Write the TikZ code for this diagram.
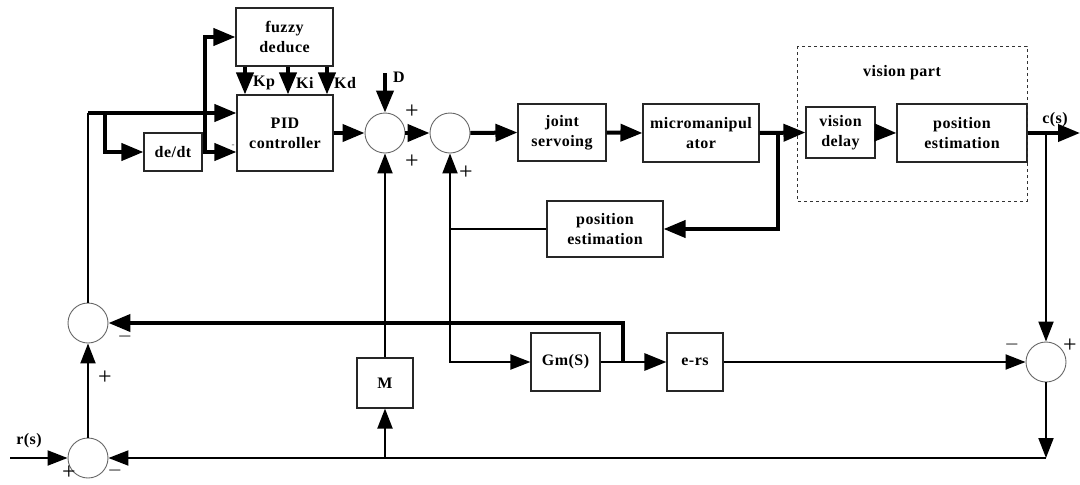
\documentclass[tikz,border=0pt]{standalone}
\usepackage{fontspec}
\setmainfont{Liberation Serif}
\newfontfamily\boxfont[LetterSpace=3]{Liberation Serif}
\usetikzlibrary{arrows.meta}
\begin{document}
\begin{tikzpicture}[x=1pt,y=-1pt,
  blk/.style={draw=black!85,line width=1.1pt,fill=white,inner sep=0pt,align=center,
    font=\boxfont\fontsize{16}{20}\selectfont\bfseries},
  sumc/.style={circle,draw=black!60,line width=0.9pt,minimum size=40pt,inner sep=0pt},
  heavy/.style={line width=4pt,-{Triangle[length=22pt,width=17pt]}},
  heavyline/.style={line width=4pt},
  light/.style={line width=2pt,-{Triangle[length=20pt,width=15pt]}},
  lightline/.style={line width=2pt},
  sgn/.style={font=\fontsize{24}{24}\selectfont,inner sep=0pt},
  lbl/.style={font=\boxfont\fontsize{16}{16}\selectfont\bfseries,inner sep=0pt}]
\useasboundingbox (0,0) rectangle (1080,485);

% blocks
\node[blk,minimum width=97pt,minimum height=58pt] (fuzzy) at (284.5,37) {fuzzy\\deduce};
\node[blk,minimum width=96pt,minimum height=76pt] (pid) at (285,133) {PID\\controller};
\node[blk,minimum width=58pt,minimum height=38pt] (dedt) at (173,152) {de/dt};
\node[blk,minimum width=88pt,minimum height=57pt] (joint) at (562,132.5) {joint\\servoing};
\node[blk,minimum width=116pt,minimum height=58pt] (micro) at (701,133) {micromanipul\\ator};
\node[blk,minimum width=69pt,minimum height=51pt] (vdelay) at (840.5,132.5) {vision\\delay};
\node[blk,minimum width=130pt,minimum height=58pt] (posest) at (962,133) {position\\estimation};
\node[blk,minimum width=116pt,minimum height=56pt] (pos2) at (605,229) {position\\estimation};
\node[blk,minimum width=69pt,minimum height=58pt] (gm) at (565.5,362) {Gm(S)};
\node[blk,minimum width=56pt,minimum height=58pt] (ers) at (695,362) {e-rs};
\node[blk,minimum width=56pt,minimum height=50pt] (M) at (385,383) {M};

% vision part frame
\draw[dashed,line width=0.9pt,black!80] (797,46) rectangle (1027,201);
\node[lbl] (vp) at (902,73) {vision part};

% summing junctions
\node[sumc] (s1) at (385,133) {};
\node[sumc] (s2) at (450,133) {};
\node[sumc] (s3) at (1046,362) {};
\node[sumc] (sL) at (88,323) {};
\node[sumc] (sB) at (88,458) {};

% branch points
\coordinate (j1) at (88,113);
\coordinate (j2) at (105,113);
\coordinate (j3) at (205,152);
\coordinate (jc) at (1046,133);
\coordinate (jm) at (778,133);
\coordinate (jp) at (450,229);
\coordinate (jg) at (623,362);
\coordinate (jb) at (1046,458);
\coordinate (jM) at (385,458);
\coordinate (din) at (385,73);
\coordinate (rin) at (10,458);
\coordinate (cout) at (1080,133);

% fuzzy PID part
\draw[lightline] (sL.north) -- (j1);
\draw[heavy] (j1) -- (pid.west |- j1);
\draw[heavy] (j2) |- (dedt.west);
\draw[heavy] (dedt.east) -- (pid.west |- dedt.east);
\draw[heavy] (j3) |- (fuzzy.west);
\foreach \kx in {245,288,327}{
  \draw[heavy] (fuzzy.south -| \kx,0) -- (pid.north -| \kx,0);
}
\node[lbl,anchor=west] (kp) at (253,83) {Kp};
\node[lbl,anchor=west] (ki) at (296,83) {Ki};
\node[lbl,anchor=west] (kd) at (334,83) {Kd};
\node[font=\fontsize{9}{9}\selectfont,inner sep=0pt,black!70] (mk) at (233,146) {-};

% forward path
\draw[heavy] (pid.east |- s1) -- (s1.west);
\draw[heavy] (din) -- (s1.north);
\node[lbl] (dl) at (399,77) {D};
\draw[heavy] (s1.east) -- (s2.west);
\draw[heavy] (s2.east) -- (joint.west);
\draw[heavy] (joint.east) -- (micro.west);
\draw[heavy] (micro.east) -- (vdelay.west);
\draw[heavy] (vdelay.east) -- (posest.west);
\draw[heavy] (posest.east) -- (cout);
\node[lbl] (cs) at (1055,120) {c(s)};

% inner position loop
\draw[heavy] (jm) |- (pos2.east);
\draw[lightline] (pos2.west) -- (jp);
\draw[light] (jp) -- (s2.south);
\draw[light] (jp) |- (gm.west);

% model path
\draw[heavy,line width=2.8pt] (gm.east) -- (ers.west);
\draw[heavy] (jg) |- (sL.east);
\draw[light] (ers.east) -- (s3.west);
\draw[light] (jc) -- (s3.north);
\draw[light] (s3.south) -- (jb);
\draw[light] (jb) -- (sB.east);
\draw[light] (jM) -- (M.south);
\draw[light] (M.north) -- (s1.south);
\draw[light] (rin) -- (sB.west);
\node[lbl] (rs) at (29,441) {r(s)};
\draw[light] (sB.north) -- (sL.south);

% signs
\node[sgn] (p1) at (412,112) {+};
\node[sgn] (p2) at (412,162) {+};
\node[sgn] (p3) at (466,173) {+};
\node[sgn,black!70] (m1) at (125,340) {−};
\node[sgn] (p4) at (105,378) {+};
\node[sgn] (p5) at (69,473) {+};
\node[sgn,black!70] (m2) at (115,474) {−};
\node[sgn,black!70] (m3) at (1012,348) {−};
\node[sgn] (p6) at (1070,346) {+};
\end{tikzpicture}
\end{document}
